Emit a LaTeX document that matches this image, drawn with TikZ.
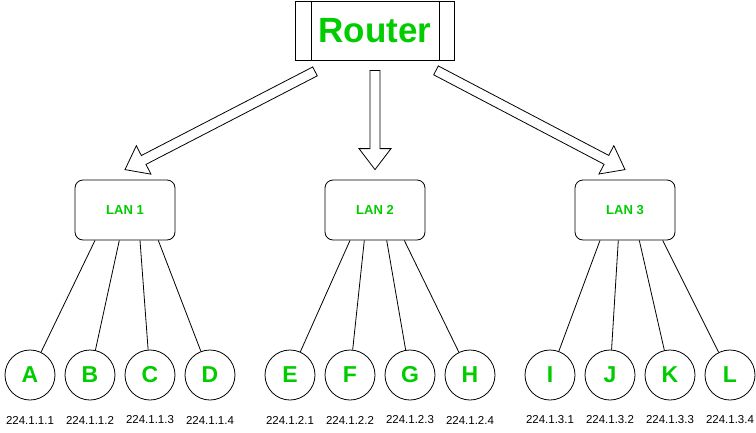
\documentclass[tikz,border=0pt]{standalone}
\usepackage{fontspec}
\setmainfont{Liberation Sans}
\usetikzlibrary{calc}

\definecolor{lgreen}{RGB}{0,204,0}

% hollow block arrow from #1 to #2
\newcommand\hollowarrow[2]{%
  \draw[blockarrow]
    ($(#1)!5pt!-90:(#2)$) --
    ($(#2)!21pt!(#1)!5pt!-90:(#2)$) --
    ($(#2)!21pt!(#1)!16pt!-90:(#2)$) --
    (#2) --
    ($(#2)!21pt!(#1)!16pt!90:(#2)$) --
    ($(#2)!21pt!(#1)!5pt!90:(#2)$) --
    ($(#1)!5pt!90:(#2)$) -- cycle;}

\begin{document}
\begin{tikzpicture}[x=1pt,y=-1pt,line width=0.8pt,
    lan/.style={draw, rounded corners=8pt, minimum width=100pt, minimum height=60pt,
                text=lgreen, font=\fontsize{13}{15}\selectfont\bfseries},
    host/.style={draw, circle, minimum size=50pt, inner sep=0pt,
                 text=lgreen, font=\fontsize{23}{26}\selectfont\bfseries},
    addr/.style={font=\fontsize{11.5}{13}\selectfont},
    blockarrow/.style={draw, fill=white, line join=miter}]
    \useasboundingbox (0,0) rectangle (756,432);

    \node[draw, minimum width=159pt, minimum height=59pt, text=lgreen,
          font=\fontsize{35}{40}\selectfont\bfseries] (router) at (375,30.5) {Router};
    \draw ([xshift=16]router.north west) -- ([xshift=16]router.south west);
    \draw ([xshift=-16]router.north east) -- ([xshift=-16]router.south east);

    \node[lan] (lan1) at (125,210) {LAN 1};
    \node[lan] (lan2) at (375,210) {LAN 2};
    \node[lan] (lan3) at (625,210) {LAN 3};

    \coordinate (t1) at ([shift={(-60,11)}]router.south);
    \coordinate (t2) at ([shift={(0,10)}]router.south);
    \coordinate (t3) at ([shift={(61,10)}]router.south);
    \coordinate (h1) at ([shift={(0,-10)}]lan1.north);
    \coordinate (h2) at ([shift={(0,-10)}]lan2.north);
    \coordinate (h3) at ([shift={(0,-10)}]lan3.north);
    \hollowarrow{t1}{h1}
    \hollowarrow{t2}{h2}
    \hollowarrow{t3}{h3}

    \foreach \n/\x/\ip in {A/30/224.1.1.1,B/90/224.1.1.2,C/150/224.1.1.3,D/210/224.1.1.4,
                           E/290/224.1.2.1,F/350/224.1.2.2,G/410/224.1.2.3,H/470/224.1.2.4,
                           I/550/224.1.3.1,J/610/224.1.3.2,K/670/224.1.3.3,L/730/224.1.3.4} {
      \node[host] (\n) at (\x,375) {\n};
      \node[addr] (ip\n) at (\x,420) {\ip};
    }

    \foreach \dx/\h in {-30/A,-5.7/B,15/C,33.3/D}
      \draw ([xshift=\dx]lan1.south) -- (\h);
    \foreach \dx/\h in {-25/E,-10.7/F,11.7/G,29.3/H}
      \draw ([xshift=\dx]lan2.south) -- (\h);
    \foreach \dx/\h in {-25/I,-6.7/J,14.3/K,37.7/L}
      \draw ([xshift=\dx]lan3.south) -- (\h);
\end{tikzpicture}
\end{document}
